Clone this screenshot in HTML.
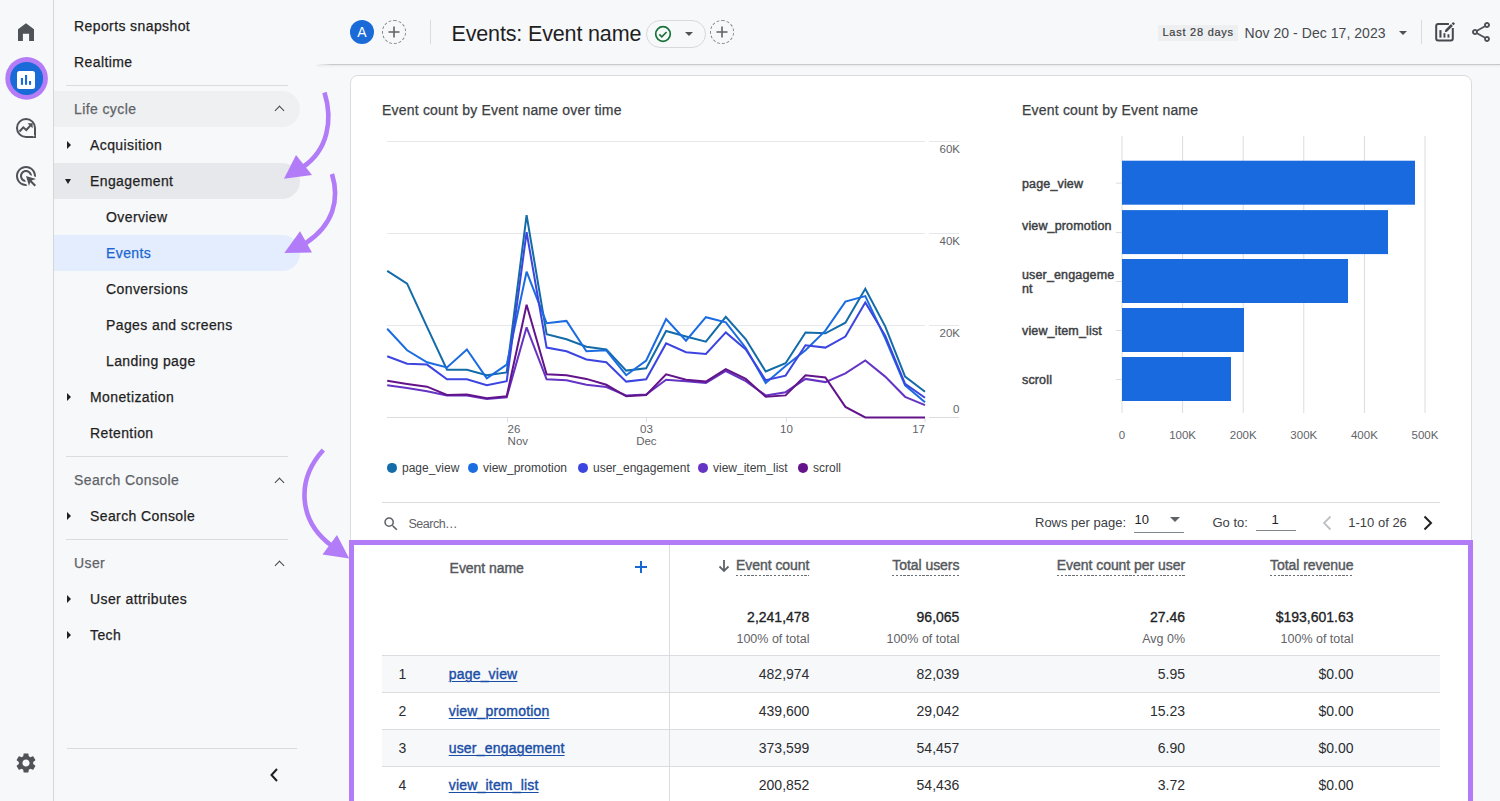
<!DOCTYPE html>
<html><head><meta charset="utf-8"><title>Events: Event name</title>
<style>
*{box-sizing:border-box;margin:0;padding:0}
html,body{width:1500px;height:801px;overflow:hidden;background:#f7f8fa;font-family:"Liberation Sans",Arial,sans-serif;color:#202124}
.a{position:absolute;white-space:nowrap}
.rail{position:absolute;left:0;top:0;width:54px;height:801px;border-right:1px solid #d4d6da}
.nav{font-size:14px;letter-spacing:.4px;color:#1f1f1f;margin-top:1.3px;-webkit-text-stroke:.25px currentColor}
.navbg{position:absolute;left:54px;width:246px;height:36px;border-radius:0 18px 18px 0}
.hdr{color:#5f6368}
.tri{position:absolute;width:0;height:0}
.tr{border-top:4.75px solid transparent;border-bottom:4.75px solid transparent;border-left:4.7px solid #202124}
.td{border-left:3.75px solid transparent;border-right:3.75px solid transparent;border-top:5px solid #202124}
.chev{position:absolute;width:7px;height:7px;border-left:1.6px solid #444746;border-top:1.6px solid #444746;transform:rotate(45deg)}
.div{position:absolute;height:1px;background:#dadce0}
.card{position:absolute;left:350px;top:75px;width:1122px;height:760px;background:#fff;border:1px solid #dadce0;border-radius:8px}
.ax{font-size:11.5px;fill:#5f6368;font-family:"Liberation Sans",Arial,sans-serif}
.lg{font-size:12px;fill:#3c4043;font-family:"Liberation Sans",Arial,sans-serif}
.ttl{font-size:14px;color:#3c4043;letter-spacing:.2px;margin-top:1px;-webkit-text-stroke:.25px currentColor}
.bl{font-size:12.5px;color:#3c4043;margin-top:.5px;letter-spacing:.15px;-webkit-text-stroke:.45px #3c4043}
.th{font-size:14px;color:#55585c;letter-spacing:-.05px;-webkit-text-stroke:.4px currentColor}
.thu{background:repeating-linear-gradient(90deg,#6a6e73 0 2.3px,transparent 2.3px 3.8px) left bottom/100% 1px no-repeat;padding-bottom:3px}
.num{font-size:14px;color:#2b2d30;text-align:right}
.sub{font-size:12.5px;color:#5f6368;text-align:right;letter-spacing:0}
.tot{font-size:14px;color:#202124;-webkit-text-stroke:.3px currentColor}
.pg{font-size:13px;color:#3c4043}
.lnk{font-size:14px;color:#1a4ea6;text-decoration:underline;text-underline-offset:2px;text-decoration-thickness:1px;letter-spacing:.2px;-webkit-text-stroke:.4px currentColor}
</style></head>
<body>
<!-- RAIL -->
<div class="rail"></div>
<svg class="a" style="left:14px;top:20px" width="24" height="24" viewBox="0 0 24 24"><path d="M4 21V9.2l8-6 8 6V21h-4.9v-7.2H8.9V21z" fill="#4f5257"/></svg>
<svg class="a" style="left:5px;top:56px" width="44" height="44" viewBox="0 0 44 44"><circle cx="21.6" cy="22.4" r="21.3" fill="#b57cf8"/><circle cx="21.6" cy="22.4" r="16.5" fill="#1a6ad8"/><rect x="12" y="15" width="18" height="18" rx="2.5" fill="#fff"/><rect x="15.9" y="22" width="2.1" height="6.8" fill="#1a6ad8"/><rect x="20" y="19" width="2.1" height="9.8" fill="#1a6ad8"/><rect x="24" y="25" width="2.1" height="3.8" fill="#1a6ad8"/></svg>
<svg class="a" style="left:14px;top:116px" width="24" height="24" viewBox="0 0 24 24"><path d="M12 3A9 9 0 1 0 12 21H21V12A9 9 0 0 0 12 3Z" fill="none" stroke="#4f5257" stroke-width="2"/><path d="M5.5 15.5L9.3 11.3L12.3 14L16.5 9.3" fill="none" stroke="#4f5257" stroke-width="2"/><path d="M13.5 7.2H18.6V12.3Z" fill="#4f5257"/><circle cx="19.6" cy="19.6" r="0.9" fill="#f7f8fa"/></svg>
<svg class="a" style="left:14px;top:164px" width="24" height="24" viewBox="0 0 24 24"><path fill="#4f5257" d="M11.71 17.99C8.53 17.84 6 15.22 6 12c0-3.31 2.69-6 6-6 3.22 0 5.840 2.53 5.99 5.71l-2.1-.63C15.48 9.31 13.890 8 12 8c-2.21 0-4 1.79-4 4 0 1.89 1.31 3.48 3.08 3.89l.63 2.1zM22 12c0 .3-.01.6-.04.9l-1.97-.59c.01-.1.01-.21.01-.31 0-4.42-3.58-8-8-8s-8 3.58-8 8 3.58 8 8 8c.1 0 .21 0 .31-.01l.59 1.97c-.3.03-.6.04-.9.04-5.52 0-10-4.48-10-10S6.48 2 12 2s10 4.48 10 10zm-3.77 4.26L22 15l-10-3 3 10 1.26-3.77 4.27 4.27 1.49-1.49-4.27-4.27z"/></svg>
<svg class="a" style="left:14px;top:751px" width="24" height="24" viewBox="0 0 24 24"><path fill="#4f5257" d="M19.14 12.94c.04-.3.06-.61.06-.94 0-.32-.02-.64-.07-.94l2.03-1.58c.18-.14.23-.41.12-.61l-1.92-3.32c-.12-.22-.37-.29-.59-.22l-2.39.96c-.5-.38-1.03-.7-1.62-.94l-.36-2.540c-.04-.24-.24-.41-.48-.41h-3.84c-.24 0-.43.17-.47.41l-.36 2.54c-.59.24-1.13.57-1.62.94l-2.39-.96c-.22-.08-.47 0-.59.22L2.74 8.87c-.12.21-.08.47.12.61l2.03 1.58c-.05.3-.09.63-.09.94s.02.64.07.94l-2.03 1.58c-.18.14-.23.41-.12.61l1.92 3.32c.12.22.37.29.59.22l2.39-.96c.5.38 1.03.7 1.62.94l.36 2.54c.05.24.24.41.48.41h3.84c.24 0 .44-.17.47-.41l.36-2.54c.59-.24 1.13-.56 1.62-.94l2.39.96c.22.08.47 0 .59-.22l1.92-3.32c.12-.22.07-.47-.12-.61l-2.01-1.58zM12 15.6c-1.98 0-3.6-1.62-3.6-3.6s1.62-3.6 3.6-3.6 3.6 1.62 3.6 3.6-1.62 3.6-3.6 3.6z"/></svg>
<svg class="a" style="left:267.5px;top:767px" width="12" height="16" viewBox="0 0 12 16"><path d="M9 2L3.5 8L9 14" fill="none" stroke="#1f1f1f" stroke-width="2"/></svg>

<!-- HEADER -->
<div class="a" style="left:316px;top:64px;width:1184px;height:1px;background:linear-gradient(90deg,rgba(198,200,204,0),#c6c8cc 16px);box-shadow:0 1px 2px rgba(0,0,0,.1)"></div>
<div class="a" style="left:350px;top:20px;width:24px;height:24px;border-radius:50%;background:#1a6ad8;color:#fff;font-size:14px;text-align:center;line-height:24px">A</div>
<div class="a" style="left:382px;top:20px;width:24px;height:24px;border-radius:50%;border:1px dashed #80868b"></div>
<svg class="a" style="left:382px;top:20px" width="24" height="24" viewBox="0 0 24 24"><path d="M12 6.5v11M6.5 12h11" stroke="#5f6368" stroke-width="1.6"/></svg>
<div class="a" style="left:430px;top:20px;width:1px;height:24px;background:#dadce0"></div>
<div class="a" style="left:451.5px;top:21.5px;font-size:21.5px;color:#1f1f1f;letter-spacing:-.15px">Events: Event name</div>
<div class="a" style="left:646px;top:20px;width:60px;height:28px;border-radius:14px;border:1px solid #d6d8dc"></div>
<svg class="a" style="left:654px;top:25px" width="18" height="18" viewBox="0 0 18 18"><circle cx="9" cy="9" r="7.3" fill="none" stroke="#18733a" stroke-width="1.7"/><path d="M5.3 9.4L7.8 11.8L12.6 7" fill="none" stroke="#18733a" stroke-width="1.7"/></svg>
<div class="tri" style="left:685px;top:32px;border-left:4px solid transparent;border-right:4px solid transparent;border-top:4.5px solid #4f5257"></div>
<div class="a" style="left:710px;top:20px;width:24px;height:24px;border-radius:50%;border:1px dashed #80868b"></div>
<svg class="a" style="left:710px;top:20px" width="24" height="24" viewBox="0 0 24 24"><path d="M12 6.5v11M6.5 12h11" stroke="#5f6368" stroke-width="1.6"/></svg>

<div class="a" style="left:1158px;top:25px;width:80px;height:16px;background:#eeeff1"></div>
<div class="a" style="left:1162.5px;top:26px;font-size:11px;letter-spacing:.75px;color:#3c4043;-webkit-text-stroke:.2px #3c4043">Last 28 days</div>
<div class="a" style="left:1244.5px;top:25px;font-size:14px;color:#474a4e;letter-spacing:.05px">Nov 20 - Dec 17, 2023</div>
<div class="tri" style="left:1399px;top:31px;border-left:4px solid transparent;border-right:4px solid transparent;border-top:4px solid #4f5257"></div>
<div class="a" style="left:1421px;top:20px;width:1px;height:24px;background:#dadce0"></div>
<svg class="a" style="left:1430px;top:18px" width="30" height="28" viewBox="0 0 30 28"><path d="M18.9 6.1H8.2Q6.2 6.1 6.2 8.1V20.4Q6.2 22.4 8.2 22.4H20.8Q22.8 22.4 22.8 20.4V10.1" fill="none" stroke="#45484c" stroke-width="2"/><path d="M15.8 13.1L21.9 7" stroke="#45484c" stroke-width="2.6"/><path d="M14.8 14.3L15.3 12.2L16.9 13.8Z" fill="#45484c"/><path d="M22.6 6.3L24.1 4.8" stroke="#45484c" stroke-width="2.6"/><rect x="9.4" y="12.1" width="2.1" height="7.5" fill="#45484c"/><rect x="13.5" y="15.2" width="1.9" height="4.4" fill="#45484c"/><rect x="17.5" y="16.3" width="1.9" height="3.3" fill="#45484c"/></svg>
<svg class="a" style="left:1469px;top:20px" width="24" height="24" viewBox="0 0 24 24"><path fill="#4f5257" d="M18 16.08c-.76 0-1.44.3-1.96.77L8.91 12.7c.05-.23.09-.46.09-.7s-.04-.47-.09-.7l7.05-4.11c.54.5 1.25.81 2.04.81 1.66 0 3-1.34 3-3s-1.34-3-3-3-3 1.34-3 3c0 .24.04.47.09.7L8.04 9.81C7.5 9.31 6.79 9 6 9c-1.66 0-3 1.340-3 3s1.34 3 3 3c.79 0 1.5-.31 2.04-.81l7.12 4.16c-.05.21-.08.43-.08.65 0 1.61 1.31 2.92 2.92 2.92 1.61 0 2.92-1.31 2.92-2.92s-1.31-2.92-2.92-2.92zM18 4c.55 0 1 .45 1 1s-.45 1-1 1-1-.45-1-1 .45-1 1-1zM6 13c-.55 0-1-.45-1-1s.45-1 1-1 1 .45 1 1-.45 1-1 1zm12 7.02c-.55 0-1-.45-1-1s.45-1 1-1 1 .45 1 1-.45 1-1 1z"/></svg>

<!-- NAV -->
<div class="a nav" style="left:74px;top:17px">Reports snapshot</div>
<div class="a nav" style="left:74px;top:53px">Realtime</div>
<div class="div" style="left:66px;top:85px;width:222px"></div>

<div class="navbg" style="top:91px;background:#eff0f2"></div>
<div class="a nav hdr" style="left:74px;top:100px">Life cycle</div>
<div class="chev" style="left:276px;top:107px"></div>

<div class="a nav" style="left:90px;top:136px">Acquisition</div>
<div class="navbg" style="top:163px;background:#e7e8eb"></div>
<div class="a nav" style="left:90px;top:172px">Engagement</div>
<div class="a nav" style="left:106px;top:208px">Overview</div>
<div class="navbg" style="top:235px;background:#e3edfd"></div>
<div class="a nav" style="left:106px;top:244px;color:#1b66d0">Events</div>
<div class="a nav" style="left:106px;top:280px">Conversions</div>
<div class="a nav" style="left:106px;top:316px">Pages and screens</div>
<div class="a nav" style="left:106px;top:352px">Landing page</div>
<div class="a nav" style="left:90px;top:388px">Monetization</div>
<div class="a nav" style="left:90px;top:424px">Retention</div>
<div class="div" style="left:66px;top:456px;width:222px"></div>
<div class="a nav hdr" style="left:74px;top:471px">Search Console</div>
<div class="chev" style="left:276px;top:479px"></div>
<div class="a nav" style="left:90px;top:507px">Search Console</div>
<div class="div" style="left:66px;top:539px;width:222px"></div>
<div class="a nav hdr" style="left:74px;top:554px">User</div>
<div class="chev" style="left:276px;top:562px"></div>
<div class="a nav" style="left:90px;top:590px">User attributes</div>
<div class="a nav" style="left:90px;top:626px">Tech</div>
<div class="div" style="left:67px;top:748px;width:230px"></div>
<div class="tri tr" style="left:67px;top:140.5px"></div>
<div class="tri tr" style="left:67px;top:392.5px"></div>
<div class="tri tr" style="left:67px;top:511.5px"></div>
<div class="tri tr" style="left:67px;top:594.5px"></div>
<div class="tri tr" style="left:67px;top:630.5px"></div>
<div class="tri td" style="left:65px;top:179px"></div>

<!-- CARD -->
<div class="card"></div>
<div class="a ttl" style="left:382px;top:101px">Event count by Event name over time</div>
<div class="a ttl" style="left:1022px;top:101px">Event count by Event name</div>
<svg class="a" style="left:0;top:0" width="1500" height="801" viewBox="0 0 1500 801">
<path d="M387 141.5H925M929 141.5H959" stroke="#e6e7ea" stroke-width="1"/>
<path d="M387 233.5H925M929 233.5H959" stroke="#e6e7ea" stroke-width="1"/>
<path d="M387 325.5H925M929 325.5H959" stroke="#e6e7ea" stroke-width="1"/>
<path d="M387 417.5H925M929 417.5H959" stroke="#dadce0" stroke-width="1"/>
<path d="M507.6 417.5V422.5" stroke="#dadce0" stroke-width="1"/>
<path d="M646.4 417.5V422.5" stroke="#dadce0" stroke-width="1"/>
<path d="M786.4 417.5V422.5" stroke="#dadce0" stroke-width="1"/>
<path d="M925.0 417.5V422.5" stroke="#dadce0" stroke-width="1"/>
<polyline points="387.2,270.8 407.1,283.6 427.0,326.9 447.0,369.7 466.9,369.7 486.8,375.2 506.7,372.4 526.6,215.1 546.6,334.2 566.5,339.3 586.4,346.7 606.3,349.4 626.2,370.6 646.2,368.3 666.1,331.0 686.0,336.5 705.9,341.6 725.8,316.8 745.8,339.3 765.7,371.5 785.6,363.2 805.5,332.4 825.4,333.3 845.4,322.7 865.3,288.7 885.2,326.4 905.1,376.6 925.0,391.7" fill="none" stroke="#136ba7" stroke-width="2" stroke-linejoin="miter" stroke-miterlimit="3"/>
<polyline points="387.2,328.7 407.1,350.3 427.0,362.3 447.0,367.4 466.9,349.4 486.8,378.4 506.7,364.6 526.6,271.7 546.6,323.2 566.5,320.9 586.4,351.3 606.3,350.3 626.2,375.2 646.2,360.5 666.1,319.1 686.0,340.7 705.9,317.2 725.8,322.3 745.8,348.0 765.7,383.0 785.6,366.0 805.5,350.3 825.4,330.6 845.4,301.6 865.3,296.1 885.2,338.4 905.1,385.3 925.0,402.3" fill="none" stroke="#1b6ce0" stroke-width="2" stroke-linejoin="miter" stroke-miterlimit="3"/>
<polyline points="387.2,356.3 407.1,363.7 427.0,364.6 447.0,379.3 466.9,379.3 486.8,385.3 506.7,381.2 526.6,232.1 546.6,347.6 566.5,351.3 586.4,359.5 606.3,362.3 626.2,381.6 646.2,379.3 666.1,343.4 686.0,352.2 705.9,354.0 725.8,332.4 745.8,349.4 765.7,380.2 785.6,375.6 805.5,345.3 825.4,347.6 845.4,336.5 865.3,302.5 885.2,335.6 905.1,383.9 925.0,397.7" fill="none" stroke="#3c45e0" stroke-width="2" stroke-linejoin="miter" stroke-miterlimit="3"/>
<polyline points="387.2,385.3 407.1,388.1 427.0,391.3 447.0,395.4 466.9,395.4 486.8,399.1 506.7,397.3 526.6,327.3 546.6,379.3 566.5,380.2 586.4,384.8 606.3,387.1 626.2,395.4 646.2,394.5 666.1,379.8 686.0,381.2 705.9,383.0 725.8,371.0 745.8,381.2 765.7,395.4 785.6,392.2 805.5,378.9 825.4,382.1 845.4,373.3 865.3,360.5 885.2,376.6 905.1,396.8 925.0,405.1" fill="none" stroke="#6534c2" stroke-width="2" stroke-linejoin="miter" stroke-miterlimit="3"/>
<polyline points="387.2,380.7 407.1,383.9 427.0,386.7 447.0,395.0 466.9,394.5 486.8,398.2 506.7,396.3 526.6,304.8 546.6,374.3 566.5,375.2 586.4,378.9 606.3,384.8 626.2,396.3 646.2,395.0 666.1,374.3 686.0,379.8 705.9,381.6 725.8,369.2 745.8,378.9 765.7,396.8 785.6,395.4 805.5,375.2 825.4,377.5 845.4,406.9 865.3,417.5 885.2,417.5 905.1,417.5 925.0,417.5" fill="none" stroke="#64148a" stroke-width="2" stroke-linejoin="miter" stroke-miterlimit="3"/>
<text x="960" y="153.3" text-anchor="end" class="ax">60K</text>
<text x="960" y="245.3" text-anchor="end" class="ax">40K</text>
<text x="960" y="337.3" text-anchor="end" class="ax">20K</text>
<text x="959.5" y="413.1" text-anchor="end" class="ax">0</text>
<text x="507.6" y="432.8" class="ax">26</text><text x="507.6" y="444.8" class="ax">Nov</text>
<text x="646.4" y="432.8" text-anchor="middle" class="ax">03</text><text x="646.4" y="444.8" text-anchor="middle" class="ax">Dec</text>
<text x="786.4" y="432.8" text-anchor="middle" class="ax">10</text>
<text x="925" y="432.8" text-anchor="end" class="ax">17</text>
<circle cx="392" cy="467.9" r="5" fill="#136ba7"/><text x="402" y="472" class="lg">page_view</text>
<circle cx="473" cy="467.9" r="5" fill="#1b6ce0"/><text x="483" y="472" class="lg">view_promotion</text>
<circle cx="583" cy="467.9" r="5" fill="#3c45e0"/><text x="593" y="472" class="lg">user_engagement</text>
<circle cx="703" cy="467.9" r="5" fill="#6534c2"/><text x="713" y="472" class="lg">view_item_list</text>
<circle cx="803" cy="467.9" r="5" fill="#64148a"/><text x="813" y="472" class="lg">scroll</text>
<path d="M1122.0 136V413" stroke="#dadce0" stroke-width="1"/>
<path d="M1182.6 136V413" stroke="#dadce0" stroke-width="1"/>
<path d="M1243.2 136V413" stroke="#dadce0" stroke-width="1"/>
<path d="M1303.8 136V413" stroke="#dadce0" stroke-width="1"/>
<path d="M1364.4 136V413" stroke="#dadce0" stroke-width="1"/>
<path d="M1425.0 136V413" stroke="#dadce0" stroke-width="1"/>
<rect x="1122" y="160.7" width="293" height="44" fill="#1a6adf"/>
<path d="M1116 183.2H1122" stroke="#dadce0" stroke-width="1"/>
<rect x="1122" y="210.1" width="266" height="44" fill="#1a6adf"/>
<path d="M1116 232.6H1122" stroke="#dadce0" stroke-width="1"/>
<rect x="1122" y="259" width="226" height="44" fill="#1a6adf"/>
<path d="M1116 281.5H1122" stroke="#dadce0" stroke-width="1"/>
<rect x="1122" y="308" width="122" height="44" fill="#1a6adf"/>
<path d="M1116 330.5H1122" stroke="#dadce0" stroke-width="1"/>
<rect x="1122" y="357" width="109" height="44" fill="#1a6adf"/>
<path d="M1116 379.5H1122" stroke="#dadce0" stroke-width="1"/>
<text x="1122.0" y="439" text-anchor="middle" class="ax">0</text>
<text x="1182.6" y="439" text-anchor="middle" class="ax">100K</text>
<text x="1243.2" y="439" text-anchor="middle" class="ax">200K</text>
<text x="1303.8" y="439" text-anchor="middle" class="ax">300K</text>
<text x="1364.4" y="439" text-anchor="middle" class="ax">400K</text>
<text x="1425.0" y="439" text-anchor="middle" class="ax">500K</text>
</svg>
<div class="a bl" style="left:1022px;top:176px">page_view</div>
<div class="a bl" style="left:1022px;top:218px">view_promotion</div>
<div class="a bl" style="left:1022px;top:267px;line-height:14px">user_engageme<br>nt</div>
<div class="a bl" style="left:1022px;top:323px">view_item_list</div>
<div class="a bl" style="left:1022px;top:372px">scroll</div>
<div class="div" style="left:382px;top:502px;width:1058px"></div>
<svg class="a" style="left:382px;top:515.3px" width="18" height="18" viewBox="0 0 24 24"><path fill="#5f6368" d="M15.5 14h-.79l-.28-.27A6.47 6.47 0 0 0 16 9.5 6.5 6.5 0 1 0 9.5 16c1.61 0 3.09-.59 4.23-1.57l.27.28v.79l5 4.99L20.49 19l-4.99-5zm-6 0C7.01 14 5 11.99 5 9.5S7.01 5 9.5 5 14 7.01 14 9.5 11.990 14 9.5 14z"/></svg>
<div class="a pg" style="left:408.5px;top:516.5px;color:#5f6368;font-size:12.5px;letter-spacing:-.5px">Search…</div>
<div class="a pg" style="left:1035px;top:514.6px">Rows per page:</div>
<div class="a pg" style="left:1134.5px;top:512px;color:#202124">10</div>
<div class="a" style="left:1134px;top:532px;width:50px;height:1px;background:#80868b"></div>
<div class="tri" style="left:1170px;top:516.5px;border-left:5px solid transparent;border-right:5px solid transparent;border-top:5px solid #5f6368"></div>
<div class="a pg" style="left:1212.5px;top:514.6px">Go to:</div>
<div class="a pg" style="left:1271.5px;top:512px;color:#202124">1</div>
<div class="a" style="left:1256px;top:530px;width:40px;height:1px;background:#80868b"></div>
<svg class="a" style="left:1320px;top:514px" width="14" height="18" viewBox="0 0 14 18"><path d="M10.5 2.5L4 9l6.5 6.5" fill="none" stroke="#bdc1c6" stroke-width="1.8"/></svg>
<div class="a pg" style="left:1348.3px;top:514.6px;color:#3c4043">1-10 of 26</div>
<svg class="a" style="left:1421px;top:514px" width="14" height="18" viewBox="0 0 14 18"><path d="M3.5 2.5L10 9l-6.5 6.5" fill="none" stroke="#202124" stroke-width="2"/></svg>
<div class="a th" style="left:449.6px;top:560px">Event name</div>
<svg class="a" style="left:632.7px;top:559.4px" width="16" height="16" viewBox="0 0 16 16"><path d="M8 2v12M2 8h12" stroke="#1967d2" stroke-width="2"/></svg>
<div class="a" style="left:669px;top:544px;width:1px;height:257px;background:#dadce0"></div>
<svg class="a" style="left:717px;top:559px" width="14" height="14" viewBox="0 0 14 14"><path d="M7 1v11M2.5 7.5L7 12l4.5-4.5" fill="none" stroke="#5f6368" stroke-width="1.8"/></svg>
<div class="a th thu" style="right:690.6px;top:557px">Event count</div>
<div class="a th thu" style="right:540.6px;top:557px">Total users</div>
<div class="a th thu" style="right:315.0px;top:557px">Event count per user</div>
<div class="a th thu" style="right:146.5px;top:557px">Total revenue</div>
<div class="a tot" style="right:690.6px;top:609px">2,241,478</div>
<div class="a sub" style="right:690.6px;top:631.5px">100% of total</div>
<div class="a tot" style="right:540.6px;top:609px">96,065</div>
<div class="a sub" style="right:540.6px;top:631.5px">100% of total</div>
<div class="a tot" style="right:315.0px;top:609px">27.46</div>
<div class="a sub" style="right:315.0px;top:631.5px">Avg 0%</div>
<div class="a tot" style="right:146.5px;top:609px">$193,601.63</div>
<div class="a sub" style="right:146.5px;top:631.5px">100% of total</div>
<div class="a" style="left:382px;top:655.0px;width:1058px;height:37px;background:#f7f8fa;border-top:1px solid #dadce0"></div>
<div class="a" style="left:669px;top:655.0px;width:1px;height:37px;background:#dadce0"></div>
<div class="a num" style="left:398.5px;top:666.1px">1</div>
<div class="a lnk" style="left:448.7px;top:666.1px">page_view</div>
<div class="a num" style="right:690.6px;top:666.1px">482,974</div>
<div class="a num" style="right:540.6px;top:666.1px">82,039</div>
<div class="a num" style="right:315.0px;top:666.1px">5.95</div>
<div class="a num" style="right:146.5px;top:666.1px">$0.00</div>
<div class="a" style="left:382px;top:692.0px;width:1058px;height:37px;background:#fff;border-top:1px solid #dadce0"></div>
<div class="a" style="left:669px;top:692.0px;width:1px;height:37px;background:#dadce0"></div>
<div class="a num" style="left:398.5px;top:703.1px">2</div>
<div class="a lnk" style="left:448.7px;top:703.1px">view_promotion</div>
<div class="a num" style="right:690.6px;top:703.1px">439,600</div>
<div class="a num" style="right:540.6px;top:703.1px">29,042</div>
<div class="a num" style="right:315.0px;top:703.1px">15.23</div>
<div class="a num" style="right:146.5px;top:703.1px">$0.00</div>
<div class="a" style="left:382px;top:729.0px;width:1058px;height:37px;background:#f7f8fa;border-top:1px solid #dadce0"></div>
<div class="a" style="left:669px;top:729.0px;width:1px;height:37px;background:#dadce0"></div>
<div class="a num" style="left:398.5px;top:740.1px">3</div>
<div class="a lnk" style="left:448.7px;top:740.1px">user_engagement</div>
<div class="a num" style="right:690.6px;top:740.1px">373,599</div>
<div class="a num" style="right:540.6px;top:740.1px">54,457</div>
<div class="a num" style="right:315.0px;top:740.1px">6.90</div>
<div class="a num" style="right:146.5px;top:740.1px">$0.00</div>
<div class="a" style="left:382px;top:766.0px;width:1058px;height:37px;background:#fff;border-top:1px solid #dadce0"></div>
<div class="a" style="left:669px;top:766.0px;width:1px;height:37px;background:#dadce0"></div>
<div class="a num" style="left:398.5px;top:777.1px">4</div>
<div class="a lnk" style="left:448.7px;top:777.1px">view_item_list</div>
<div class="a num" style="right:690.6px;top:777.1px">200,852</div>
<div class="a num" style="right:540.6px;top:777.1px">54,436</div>
<div class="a num" style="right:315.0px;top:777.1px">3.72</div>
<div class="a num" style="right:146.5px;top:777.1px">$0.00</div>
<div class="a" style="left:349.3px;top:539.6px;width:1124px;height:300px;border:5px solid #b27cf8"></div>

<svg class="a" style="left:0;top:0" width="1500" height="801" viewBox="0 0 1500 801">
<g fill="none" stroke="#b27cf8" stroke-width="4.6">
<path d="M324.5 92.5C333 120 328 150 303 167"/>
<path d="M332 174C340 200 333 225 306 243"/>
<path d="M323.3 450C296 480 298 521 332 546"/>
</g>
<g fill="#b27cf8">
<path d="M284 178.8L296 155L312 175Z"/>
<path d="M284.3 253L300 231.3L312 252.5Z"/>
<path d="M349.2 558.5L337 535L322.5 554.4Z"/>
</g>
</svg>
</body></html>
